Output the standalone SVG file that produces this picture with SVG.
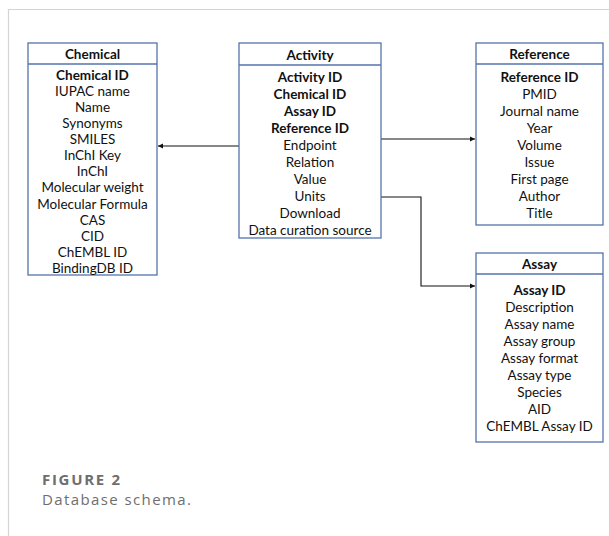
<svg xmlns="http://www.w3.org/2000/svg" width="609" height="536" viewBox="0 0 609 536">
<defs>
<style>
.box{fill:#fff;stroke:#5573ac;stroke-width:1.3}
.sep{stroke:#5573ac;stroke-width:1.3}
text{font-family:Lato,"Liberation Sans",sans-serif;font-size:13.5px;fill:#111;text-anchor:middle}
.b{font-weight:bold}
.con{fill:none;stroke:#111;stroke-width:1.1}
.cap1{font-family:"Open Sans","Liberation Sans",sans-serif;font-size:15px;font-weight:bold;fill:#6e6e6e;text-anchor:start;letter-spacing:1.7px}
.cap2{font-family:"Open Sans","Liberation Sans",sans-serif;font-size:15px;fill:#6e6e6e;text-anchor:start;letter-spacing:1.4px}
</style>
<marker id="ah" markerWidth="6" markerHeight="6" refX="5" refY="3" orient="auto" markerUnits="userSpaceOnUse">
<path d="M0,0.5 L5,3 L0,5.5 Z" fill="#111"/>
</marker>
</defs>
<rect width="609" height="536" fill="#fff"/>
<path d="M8.5,536 V9.5 H609" fill="none" stroke="#d4d4d4" stroke-width="1.2"/>

<g id="connectors">
<line class="con" x1="239" y1="146" x2="158" y2="146" marker-end="url(#ah)"/>
<line class="con" x1="381" y1="139" x2="475" y2="139" marker-end="url(#ah)"/>
<polyline class="con" points="381,197 421,197 421,286 475,286" marker-end="url(#ah)"/>
</g>

<g id="chemical">
<rect class="box" x="28" y="43" width="129" height="232"/>
<line class="sep" x1="28" y1="64" x2="157" y2="64"/>
<text class="b" x="92.5" y="58.7">Chemical</text>
<text class="b" x="92.5" y="79.7">Chemical ID</text>
<text x="92.5" y="95.8">IUPAC name</text>
<text x="92.5" y="111.9">Name</text>
<text x="92.5" y="128">Synonyms</text>
<text x="92.5" y="144.1">SMILES</text>
<text x="92.5" y="160.2">InChI Key</text>
<text x="92.5" y="176.3">InChI</text>
<text x="92.5" y="192.4">Molecular weight</text>
<text x="92.5" y="208.5">Molecular Formula</text>
<text x="92.5" y="224.6">CAS</text>
<text x="92.5" y="240.7">CID</text>
<text x="92.5" y="256.8">ChEMBL ID</text>
<text x="92.5" y="272.9">BindingDB ID</text>
</g>

<g id="activity">
<rect class="box" x="239" y="43" width="142" height="195"/>
<line class="sep" x1="239" y1="65" x2="381" y2="65"/>
<text class="b" x="310" y="60">Activity</text>
<text class="b" x="310" y="82.4">Activity ID</text>
<text class="b" x="310" y="99.4">Chemical ID</text>
<text class="b" x="310" y="116.4">Assay ID</text>
<text class="b" x="310" y="133.4">Reference ID</text>
<text x="310" y="150.4">Endpoint</text>
<text x="310" y="167.4">Relation</text>
<text x="310" y="184.4">Value</text>
<text x="310" y="201.4">Units</text>
<text x="310" y="218.4">Download</text>
<text x="310" y="235">Data curation source</text>
</g>

<g id="reference">
<rect class="box" x="476" y="43" width="127" height="182"/>
<line class="sep" x1="476" y1="64" x2="603" y2="64"/>
<text class="b" x="539.5" y="59">Reference</text>
<text class="b" x="539.5" y="82.4">Reference ID</text>
<text x="539.5" y="99.4">PMID</text>
<text x="539.5" y="116.4">Journal name</text>
<text x="539.5" y="133.4">Year</text>
<text x="539.5" y="150.4">Volume</text>
<text x="539.5" y="167.4">Issue</text>
<text x="539.5" y="184.4">First page</text>
<text x="539.5" y="201.4">Author</text>
<text x="539.5" y="218.4">Title</text>
</g>

<g id="assay">
<rect class="box" x="476" y="253" width="127" height="189"/>
<line class="sep" x1="476" y1="274" x2="603" y2="274"/>
<text class="b" x="539.5" y="269">Assay</text>
<text class="b" x="539.5" y="295.4">Assay ID</text>
<text x="539.5" y="312.3">Description</text>
<text x="539.5" y="329.2">Assay name</text>
<text x="539.5" y="346.1">Assay group</text>
<text x="539.5" y="363">Assay format</text>
<text x="539.5" y="379.9">Assay type</text>
<text x="539.5" y="396.8">Species</text>
<text x="539.5" y="413.7">AID</text>
<text x="539.5" y="430.6">ChEMBL Assay ID</text>
</g>

<text class="cap1" x="42" y="484.5">FIGURE 2</text>
<text class="cap2" x="42" y="505">Database schema.</text>
</svg>
